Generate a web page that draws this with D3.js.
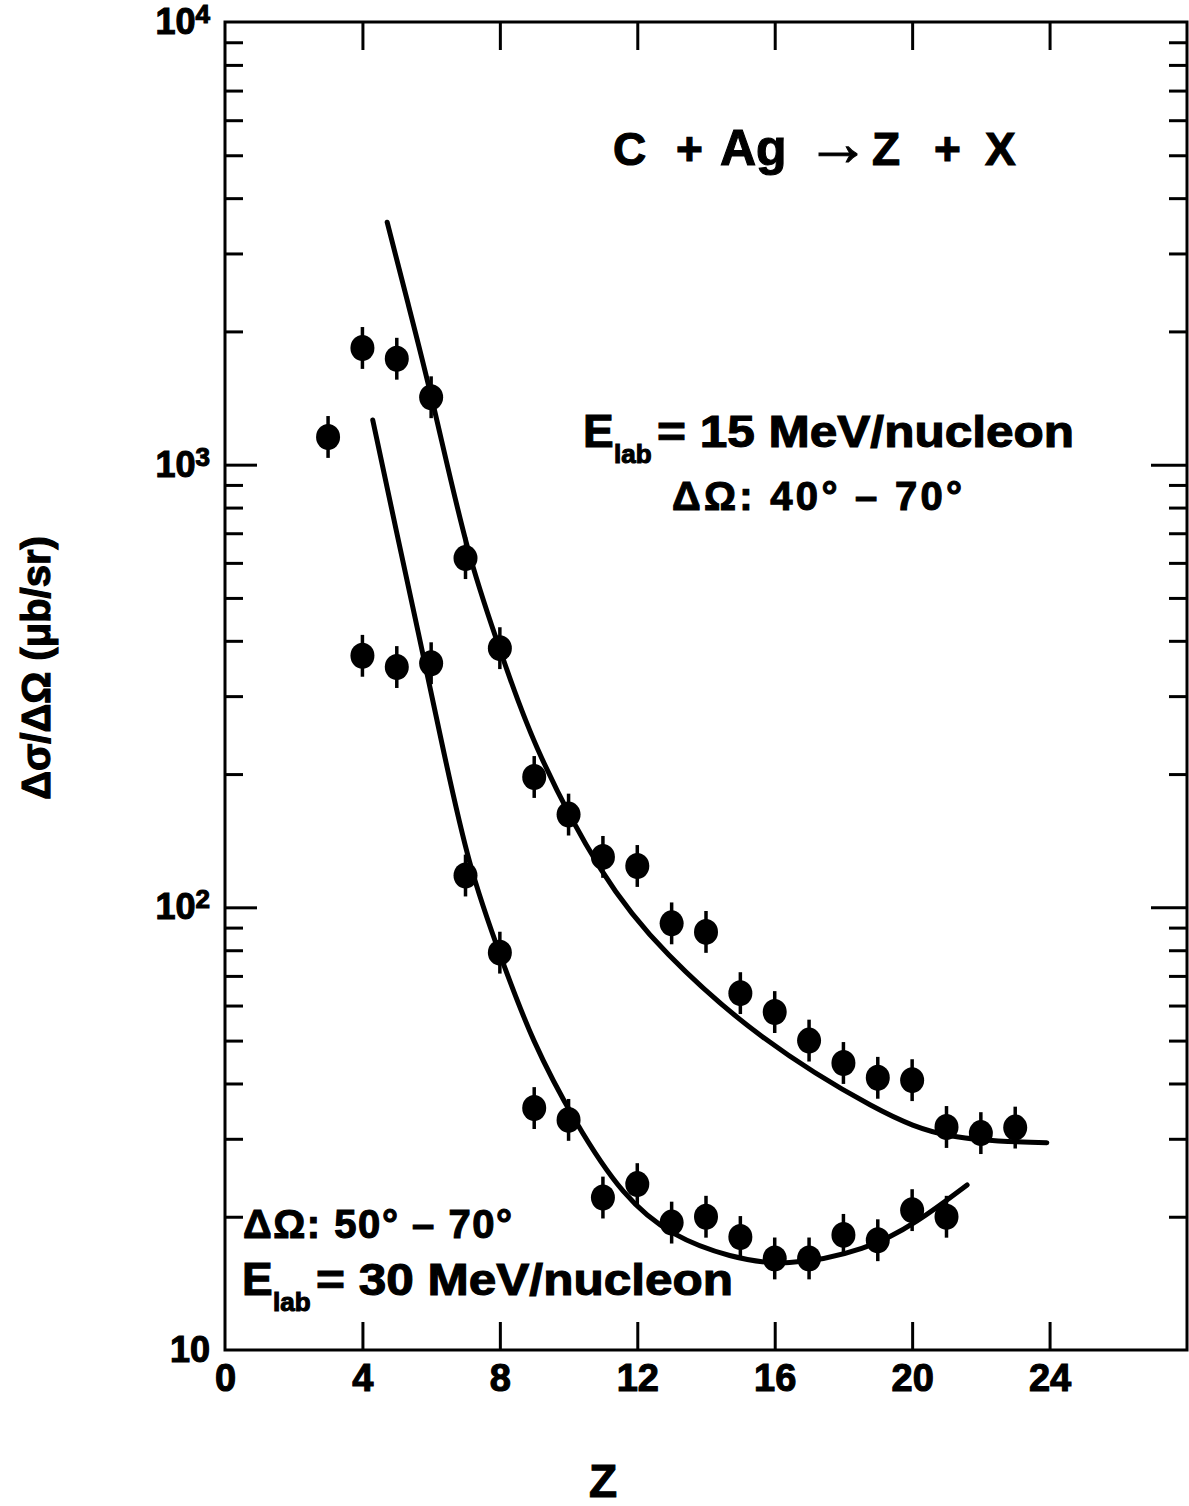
<!DOCTYPE html>
<html>
<head>
<meta charset="utf-8">
<script src="https://cdn.jsdelivr.net/npm/d3@7"></script>
<style>
  body { margin: 0; background: #fff; }
  text { font-family: "Liberation Sans", Arial, sans-serif; font-weight: bold; fill: #000;
         stroke: #000; stroke-width: 1.1px; }
</style>
</head>
<body>
<svg id="chart" width="1189" height="1506"></svg>
<script>
// C + Ag -> Z + X, cross sections (ub/sr).
const zUpper = [3, 4, 5, 6, 7, 8, 9, 10, 11, 12, 13, 14, 15, 16, 17, 18, 19, 20, 21, 22, 23];
const sigmaUpper = [1155, 1835, 1735, 1420, 615, 385, 197, 162, 130, 124, 92, 88, 64, 58, 50, 44.5, 41.2, 40.7, 31.9, 30.9, 31.8];

const zLower = [4, 5, 6, 7, 8, 9, 10, 11, 12, 13, 14, 15, 16, 17, 18, 19, 20, 21];
const sigmaLower = [370, 349, 356, 118, 79, 35.2, 33.1, 22.1, 23.7, 19.4, 20.0, 18.0, 16.1, 16.1, 18.2, 17.7, 20.7, 20.0];

// Calculated curves (sampled along the drawn lines).
const fitUpperZ = [4.72, 5.30, 6.03, 7.07, 8.00, 8.88, 11.0, 12.75, 15.48, 19.06, 21.0, 23.92];
const fitUpperSigma = [3530, 2355, 1420, 615, 385, 239, 115, 79, 50.7, 34.3, 29.8, 29.4];

const fitLowerZ = [4.30, 5.0, 5.62, 6.26, 7.10, 8.06, 8.93, 10.19, 11.58, 13.04, 14.70, 16.30, 18.69, 20.14, 21.60];
const fitLowerSigma = [1262, 700, 420, 245, 122, 76, 50, 32.6, 22.2, 18.0, 16.2, 15.4, 16.8, 19.4, 23.6];

const ERR_FRAC = 0.115;   // error bar half-length, relative

const xTicks = [0, 4, 8, 12, 16, 20, 24];
const yDecades = [10, 100, 1000, 10000];

const svg = d3.select('#chart');
const x = d3.scaleLinear().domain([0, 28]).range([225, 1187]);
const y = d3.scaleLog().domain([10, 1e4]).range([1350, 22]);
const yMinor = y.ticks().filter(v => !yDecades.includes(v));

// Frame
svg.append('rect')
  .attr('x', x(0)).attr('y', y(1e4))
  .attr('width', x(28) - x(0)).attr('height', y(10) - y(1e4))
  .attr('fill', 'none').attr('stroke', '#000').attr('stroke-width', 3);

function styleAxis(g, fontSize) {
  g.attr('font-size', fontSize).attr('font-family', null);
  g.select('.domain').remove();
  g.selectAll('.tick line').attr('stroke', '#000').attr('stroke-width', 3);
}

// Bottom axis: ticks point up, labels below
svg.append('g')
  .attr('transform', `translate(0,${y(10)})`)
  .call(d3.axisBottom(x).tickValues(xTicks).tickSizeInner(-28).tickSizeOuter(0).tickPadding(14))
  .call(g => styleAxis(g, 38))
  .call(g => g.selectAll('.tick').filter(d => d === 0).select('line').remove());

// Top axis: ticks only
svg.append('g')
  .attr('transform', `translate(0,${y(1e4)})`)
  .call(d3.axisTop(x).tickValues(xTicks.slice(1)).tickSizeInner(-28).tickSizeOuter(0).tickFormat(''))
  .call(g => styleAxis(g, 10));

// Left axis: minor + major ticks, labels as powers of ten
svg.append('g')
  .attr('transform', `translate(${x(0)},0)`)
  .call(d3.axisLeft(y).tickValues(yMinor).tickSizeInner(-18).tickSizeOuter(0).tickFormat(''))
  .call(g => styleAxis(g, 10));

svg.append('g')
  .attr('transform', `translate(${x(0)},0)`)
  .call(d3.axisLeft(y).tickValues(yDecades).tickSizeInner(-32).tickSizeOuter(0).tickPadding(15).tickFormat(''))
  .call(g => styleAxis(g, 36))
  .call(g => g.selectAll('.tick').filter(d => d === 10 || d === 1e4).select('line').remove())
  .call(g => g.selectAll('.tick text').each(function (d) {
    const t = d3.select(this);
    const e = Math.round(Math.log10(d));
    t.append('tspan').text('10');
    if (e > 1) t.append('tspan').attr('dy', '-0.42em').attr('font-size', 26).text(e);
  }));

// Right axis: ticks only
svg.append('g')
  .attr('transform', `translate(${x(28)},0)`)
  .call(d3.axisRight(y).tickValues(yMinor).tickSizeInner(-18).tickSizeOuter(0).tickFormat(''))
  .call(g => styleAxis(g, 10));
svg.append('g')
  .attr('transform', `translate(${x(28)},0)`)
  .call(d3.axisRight(y).tickValues([100, 1000]).tickSizeInner(-36).tickSizeOuter(0).tickFormat(''))
  .call(g => styleAxis(g, 10));

// Curves
const line = d3.line()
  .x(d => x(d[0]))
  .y(d => y(d[1]))
  .curve(d3.curveBasis);

[[fitUpperZ, fitUpperSigma], [fitLowerZ, fitLowerSigma]].forEach(([zs, ss]) => {
  svg.append('path')
    .datum(d3.zip(zs, ss))
    .attr('d', line)
    .attr('fill', 'none')
    .attr('stroke', '#000')
    .attr('stroke-width', 5)
    .attr('stroke-linecap', 'round');
});

// Data points with error bars
[[zUpper, sigmaUpper], [zLower, sigmaLower]].forEach(([zs, ss]) => {
  const pts = d3.zip(zs, ss);
  const g = svg.append('g');
  g.selectAll('line')
    .data(pts)
    .join('line')
      .attr('x1', d => x(d[0])).attr('x2', d => x(d[0]))
      .attr('y1', d => y(d[1] * (1 + ERR_FRAC)))
      .attr('y2', d => y(d[1] / (1 + ERR_FRAC)))
      .attr('stroke', '#000').attr('stroke-width', 3.5);
  g.selectAll('ellipse')
    .data(pts)
    .join('ellipse')
      .attr('cx', d => x(d[0])).attr('cy', d => y(d[1]))
      .attr('rx', 12).attr('ry', 13)
      .attr('fill', '#000');
});

// Annotations
const title = svg.append('text').attr('y', 165).attr('font-size', 46);
[['C', 613, 46], ['+', 676, 46], ['Ag', 720, 50], ['\u2192', 806, 64], ['Z', 872, 46], ['+', 934, 46], ['X', 985, 46]]
  .forEach(([s, px, fs]) => title.append('tspan').attr('x', px).attr('font-size', fs).text(s));

function elab(x0, yBase, rest) {
  svg.append('text').attr('x', x0).attr('y', yBase).attr('font-size', 46).text('E');
  svg.append('text').attr('x', x0 + 31).attr('y', yBase + 16).attr('font-size', 26).text('lab');
  svg.append('text').attr('x', x0 + 74).attr('y', yBase).attr('font-size', 44)
    .attr('textLength', 417).attr('lengthAdjust', 'spacingAndGlyphs')
    .text(rest);
}

function omega(x0, yBase, rest, len) {
  svg.append('text')
    .attr('x', x0).attr('y', yBase)
    .attr('font-size', 40)
    .attr('textLength', len).attr('lengthAdjust', 'spacing')
    .text('\u0394\u03A9: ' + rest);
}

elab(583, 447, '= 15 MeV/nucleon');
omega(672, 510, '40\u00B0 \u2013 70\u00B0', 290);

omega(243, 1238, '50\u00B0 \u2013 70\u00B0', 269);
elab(242, 1295, '= 30 MeV/nucleon');

// Axis titles
svg.append('text')
  .attr('transform', 'translate(50,668) rotate(-90)')
  .attr('text-anchor', 'middle')
  .attr('font-size', 40)
  .text('\u0394\u03C3/\u0394\u03A9 (\u03BCb/sr)');

svg.append('text')
  .attr('x', 603).attr('y', 1497)
  .attr('text-anchor', 'middle')
  .attr('font-size', 46)
  .text('Z');
</script>
</body>
</html>
